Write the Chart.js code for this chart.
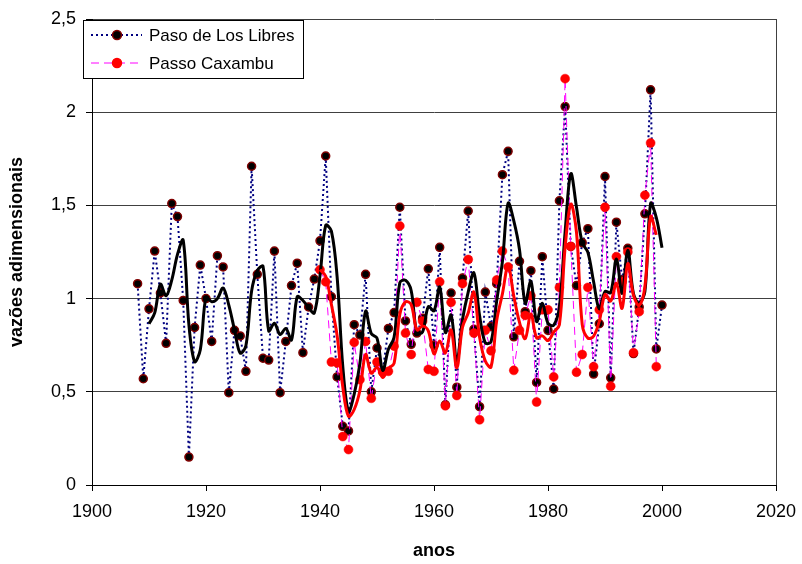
<!doctype html>
<html lang="pt">
<head>
<meta charset="utf-8">
<title>Vazões adimensionais</title>
<script src="https://cdn.jsdelivr.net/npm/chart.js@4.4.0/dist/chart.umd.min.js"></script>
<style>
  html, body { margin: 0; padding: 0; background: #fff; }
  #wrap { width: 802px; height: 564px; position: relative; }
</style>
</head>
<body>
<div id="wrap"><canvas id="vazoes"></canvas></div>
<script>
// Paso de Los Libres, vazões anuais adimensionais 1908-2000
const inicioLibres = 1908;
const libres = [
  1.08, 0.57, 0.945, 1.255, 1.03, 0.76, 1.51, 1.44, 0.99, 0.15,      // 1908-1917
  0.845, 1.18, 1.00, 0.77, 1.23, 1.17, 0.495, 0.83, 0.80, 0.61,      // 1918-1927
  1.71, 1.13, 0.68, 0.67, 1.255, 0.495, 0.77, 1.07, 1.19, 0.71,      // 1928-1937
  0.955, 1.105, 1.31, 1.765, 1.01, 0.58, 0.315, 0.29, 0.86, 0.805,   // 1938-1947
  1.13, 0.50, 0.735, 0.61, 0.84, 0.925, 1.49, 0.88, 0.755, 0.815,    // 1948-1957
  0.895, 1.16, 0.75, 1.275, 0.43, 1.03, 0.525, 1.11, 1.47, 0.835,    // 1958-1967
  0.42, 1.035, 0.85, 1.08, 1.665, 1.79, 0.795, 1.20, 0.93, 1.15,     // 1968-1977
  0.55, 1.225, 0.83, 0.515, 1.525, 2.03, 1.28, 1.07, 1.30, 1.375,    // 1978-1987
  0.595, 0.865, 1.655, 0.575, 1.41, 1.10, 1.27, 0.705, 0.955, 1.455, // 1988-1997
  2.12, 0.73, 0.965                                                  // 1998-2000
];

// Passo Caxambu, 1940-1999
const inicioCaxambu = 1940;
const caxambu = [
  1.155, 1.09, 0.66, 0.655, 0.26, 0.19, 0.765, 0.565, 0.77, 0.465,   // 1940-1949
  0.66, 0.605, 0.61, 0.745, 1.39, 0.815, 0.70, 0.98, 0.88, 0.62,     // 1950-1959
  0.61, 1.09, 0.425, 0.98, 0.48, 1.08, 1.21, 0.815, 0.35, 0.83,      // 1960-1969
  0.72, 1.10, 1.255, 1.17, 0.615, 0.83, 0.91, 1.015, 0.445, 0.94,    // 1970-1979
  0.94, 0.58, 1.06, 2.18, 1.28, 0.605, 0.70, 1.06, 0.635, 0.94,      // 1980-1989
  1.49, 0.53, 1.225, 1.09, 1.25, 0.71, 0.93, 1.555, 1.835, 0.635     // 1990-1999
];

// curvas suavizadas (médias móveis de 3 anos)
const inicioMediaLibres = 1910;
const mediaLibres = [
  0.865, 0.923, 1.077, 1.015, 1.10, 1.237, 1.313, 0.86, 0.662, 0.725, // 1910-1919
  1.008, 0.983, 1.00, 1.057, 0.965, 0.832, 0.708, 0.747, 1.04, 1.15,  // 1920-1929
  1.173, 0.827, 0.868, 0.807, 0.84, 0.778, 1.01, 0.99, 0.952, 0.923,  // 1930-1939
  1.123, 1.393, 1.362, 1.118, 0.635, 0.395, 0.488, 0.652, 0.932, 0.812, // 1940-1949
  0.788, 0.615, 0.728, 0.792, 1.085, 1.098, 1.042, 0.817, 0.822, 0.957, // 1950-1959
  0.935, 1.062, 0.818, 0.912, 0.662, 0.888, 1.035, 1.138, 0.908, 0.763, // 1960-1969
  0.768, 0.988, 1.198, 1.512, 1.417, 1.262, 0.975, 1.093, 0.877, 0.975, // 1970-1979
  0.868, 0.857, 0.957, 1.357, 1.67, 1.49, 1.30, 1.248, 1.09, 0.945,   // 1980-1989
  1.038, 1.032, 1.213, 1.028, 1.26, 1.025, 0.977, 1.038, 1.51, 1.435, // 1990-1999
  1.273                                                               // 2000
];

const inicioMediaCaxambu = 1940;
const mediaCaxambu = [
  1.155, 1.12, 0.968, 0.802, 0.525, 0.368, 0.405, 0.507, 0.70, 0.60,  // 1940-1949
  0.632, 0.577, 0.625, 0.653, 0.915, 0.983, 0.968, 0.832, 0.853, 0.827, // 1950-1959
  0.703, 0.773, 0.708, 0.832, 0.628, 0.847, 0.923, 1.035, 0.792, 0.665, // 1960-1969
  0.633, 0.883, 1.025, 1.175, 1.013, 0.872, 0.785, 0.918, 0.79, 0.80,  // 1970-1979
  0.775, 0.82, 0.86, 1.273, 1.507, 1.355, 0.862, 0.788, 0.798, 0.878, // 1980-1989
  1.022, 0.987, 1.082, 0.948, 1.188, 1.017, 0.963, 1.065, 1.44, 1.342 // 1990-1999
];

const rotuloLibres = 'Paso de Los Libres';
const rotuloCaxambu = 'Passo Caxambu';

function pontos(inicio, valores) {
  return valores.map((v, i) => ({ x: inicio + i, y: v }));
}

Chart.defaults.font.family = "'Liberation Sans', Arial, sans-serif";
Chart.defaults.color = '#000';

// legenda com moldura dentro da área do gráfico
const legendaCaixa = {
  id: 'legendaCaixa',
  afterDraw(chart) {
    const ctx = chart.ctx;
    const a = chart.chartArea;
    const x = a.left - 9, y = a.top + 1, w = 220, h = 58;
    ctx.save();
    ctx.fillStyle = '#fff';
    ctx.fillRect(x, y, w, h);
    ctx.strokeStyle = '#000';
    ctx.lineWidth = 1;
    ctx.strokeRect(x + 0.5, y + 0.5, w, h);

    const itens = [
      { texto: rotuloLibres, cor: '#000080', larg: 2, dash: [2, 3], fundo: '#000', borda: '#800000', yy: y + 15 },
      { texto: rotuloCaxambu, cor: '#FF00FF', larg: 1, dash: [8, 5], fundo: '#FF0000', borda: '#FF0000', yy: y + 43 }
    ];
    itens.forEach(it => {
      ctx.beginPath();
      ctx.setLineDash(it.dash);
      ctx.strokeStyle = it.cor;
      ctx.lineWidth = it.larg;
      ctx.moveTo(x + 8, it.yy);
      ctx.lineTo(x + 59, it.yy);
      ctx.stroke();
      ctx.setLineDash([]);
      ctx.beginPath();
      ctx.arc(x + 34, it.yy, 4.5, 0, Math.PI * 2);
      ctx.fillStyle = it.fundo;
      ctx.fill();
      ctx.lineWidth = 1.5;
      ctx.strokeStyle = it.borda;
      ctx.stroke();
      ctx.fillStyle = '#000';
      ctx.font = "17px 'Liberation Sans', Arial, sans-serif";
      ctx.textBaseline = 'middle';
      ctx.fillText(it.texto, x + 66, it.yy + 1);
    });

    // borda direita da área do gráfico
    ctx.beginPath();
    ctx.strokeStyle = '#404040';
    ctx.lineWidth = 1;
    ctx.moveTo(a.right + 0.5, a.top);
    ctx.lineTo(a.right + 0.5, a.bottom);
    ctx.stroke();
    ctx.restore();
  }
};

new Chart(document.getElementById('vazoes'), {
  type: 'line',
  data: {
    datasets: [
      {
        label: rotuloLibres,
        data: pontos(inicioLibres, libres),
        borderColor: '#000080',
        borderWidth: 2,
        borderDash: [2, 3],
        pointRadius: 4,
        pointBackgroundColor: '#000',
        pointBorderColor: '#800000',
        pointBorderWidth: 1.5,
        tension: 0,
        order: 4
      },
      {
        label: rotuloCaxambu,
        data: pontos(inicioCaxambu, caxambu),
        borderColor: '#FF00FF',
        borderWidth: 1,
        borderDash: [8, 5],
        pointRadius: 4.5,
        pointBackgroundColor: '#FF0000',
        pointBorderColor: '#FF0000',
        pointBorderWidth: 0.5,
        tension: 0,
        order: 3
      },
      {
        label: 'média Libres',
        data: pontos(inicioMediaLibres, mediaLibres),
        borderColor: '#000',
        borderWidth: 3,
        pointRadius: 0,
        tension: 0.35,
        order: 2
      },
      {
        label: 'média Caxambu',
        data: pontos(inicioMediaCaxambu, mediaCaxambu),
        borderColor: '#FF0000',
        borderWidth: 3,
        pointRadius: 0,
        tension: 0.35,
        order: 1
      }
    ]
  },
  plugins: [legendaCaixa],
  options: {
    responsive: true,
    maintainAspectRatio: false,
    animation: false,
    devicePixelRatio: 1,
    layout: { padding: { top: 19, right: 26, left: 0, bottom: 0 } },
    plugins: {
      legend: { display: false },
      tooltip: { enabled: false }
    },
    scales: {
      x: {
        type: 'linear',
        min: 1900,
        max: 2020,
        afterFit(s) {
          s.height = 79;
          s.paddingLeft = 0;
          s.paddingRight = 0;
        },
        ticks: {
          stepSize: 20,
          padding: 10,
          font: { size: 18 },
          callback: v => String(v)
        },
        grid: { drawOnChartArea: false, tickLength: 6, tickColor: '#000' },
        border: { color: '#000', width: 1 },
        title: {
          display: true,
          text: 'anos',
          font: { size: 18, weight: 'bold' },
          padding: { top: 0, bottom: 2 }
        }
      },
      y: {
        min: 0,
        max: 2.5,
        afterFit(s) {
          s.width = 92;
          s.paddingTop = 0;
          s.paddingBottom = 0;
        },
        ticks: {
          stepSize: 0.5,
          padding: 10,
          font: { size: 18 },
          callback: v => String(v).replace('.', ',')
        },
        grid: { color: '#404040', lineWidth: 1, tickLength: 6, tickColor: '#000' },
        border: { color: '#000', width: 1 },
        title: {
          display: true,
          text: 'vazões adimensionais',
          font: { size: 18, weight: 'bold' },
          padding: { top: 6, bottom: 0 }
        }
      }
    }
  }
});
</script>
</body>
</html>
